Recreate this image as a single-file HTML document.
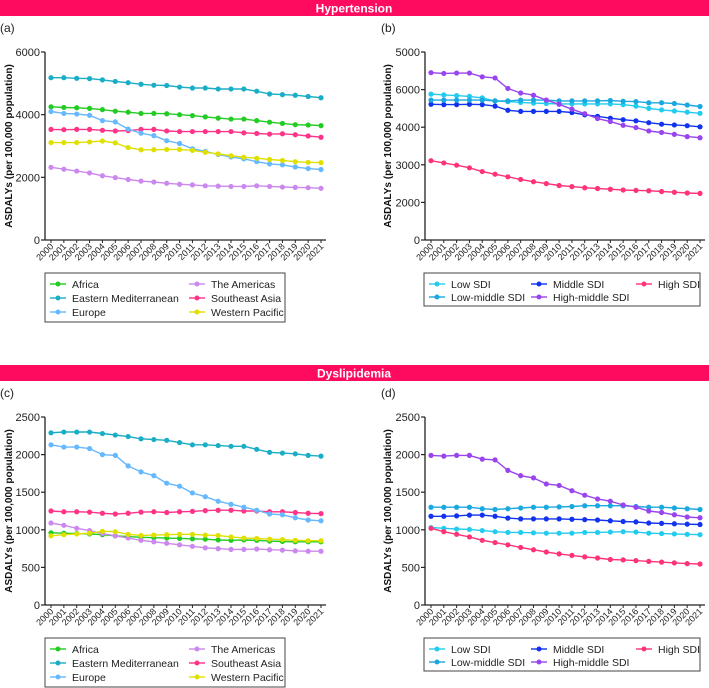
<!DOCTYPE html>
<html><head><meta charset="utf-8"><style>
body{margin:0;width:709px;height:688px;background:#fff;font-family:"Liberation Sans",sans-serif;overflow:hidden}
svg{display:block}
</style></head><body>
<svg id="c" width="709" height="688">
<rect x="0" y="0" width="709" height="16" fill="#fe0a5e"/>
<text x="354" y="12.5" text-anchor="middle" fill="#fff" font-size="12" font-weight="bold">Hypertension</text>
<rect x="0" y="365" width="709" height="16" fill="#fe0a5e"/>
<text x="354" y="377.5" text-anchor="middle" fill="#fff" font-size="12" font-weight="bold">Dyslipidemia</text>
</svg>
<script>
const years=["2000","2001","2002","2003","2004","2005","2006","2007","2008","2009","2010","2011","2012","2013","2014","2015","2016","2017","2018","2019","2020","2021"];
const regionNames=["Africa","Eastern Mediterranean","Europe","The Americas","Southeast Asia","Western Pacific"];
const sdiNames=["Low SDI","Low-middle SDI","Middle SDI","High-middle SDI","High SDI"];
const ticksA=[0,2000,4000,6000];
const ticksAL=["0","2000","4000","6000"];
const ticksB=[0,1000,2000,3000,4000,5000];
const ticksBL=["0","2000","3000","4000","6000","5000"];
const ticksC=[0,500,1000,1500,2000,2500];
const ticksCL=["0","500","1000","1500","2000","2500"];
const aAfrica=[4250,4230,4220,4200,4160,4110,4080,4040,4040,4030,4000,3970,3930,3890,3860,3860,3810,3760,3720,3680,3670,3650];
const aEMed=[5180,5180,5160,5150,5110,5060,5020,4970,4940,4930,4880,4850,4850,4820,4820,4820,4750,4660,4640,4620,4580,4540];
const aEurope=[4100,4040,4020,3980,3810,3770,3540,3410,3330,3170,3080,2910,2830,2730,2650,2590,2500,2430,2400,2330,2280,2250];
const aAmericas=[2320,2260,2200,2140,2050,1990,1930,1880,1850,1810,1780,1760,1730,1720,1710,1710,1730,1710,1690,1680,1670,1650];
const aSEAsia=[3530,3520,3530,3530,3500,3480,3490,3530,3530,3480,3460,3460,3460,3460,3460,3420,3400,3380,3390,3360,3320,3280];
const aWPac=[3110,3110,3110,3130,3160,3100,2950,2880,2880,2890,2890,2860,2800,2750,2690,2640,2610,2570,2540,2500,2480,2470];
const bLow=[3880,3860,3840,3820,3780,3700,3680,3660,3640,3630,3620,3620,3620,3620,3620,3600,3560,3500,3460,3430,3400,3370];
const bLowMid=[3720,3720,3720,3720,3720,3700,3700,3720,3720,3720,3700,3700,3700,3700,3710,3690,3680,3650,3650,3630,3590,3550];
const bMid=[3610,3600,3600,3610,3600,3560,3450,3420,3420,3420,3420,3390,3330,3290,3240,3200,3170,3120,3080,3060,3040,3010];
const bHighMid=[4450,4430,4440,4440,4340,4310,4030,3910,3850,3720,3610,3480,3360,3230,3150,3050,2990,2900,2860,2810,2750,2720];
const bHigh=[2110,2050,1990,1920,1820,1750,1680,1610,1550,1500,1450,1420,1390,1370,1350,1330,1320,1310,1290,1270,1250,1240];
const cAfrica=[960,955,950,945,935,920,910,900,895,890,885,880,875,865,860,865,860,850,845,840,840,840];
const cEMed=[2290,2300,2300,2300,2280,2260,2240,2210,2200,2190,2160,2130,2130,2120,2110,2110,2070,2030,2020,2010,1990,1980];
const cEurope=[2130,2100,2100,2080,2000,1990,1850,1770,1720,1620,1580,1490,1440,1380,1340,1300,1260,1210,1200,1160,1130,1120];
const cAmericas=[1090,1060,1020,990,950,920,890,860,840,820,800,780,760,750,740,740,745,735,730,720,715,715];
const cSEAsia=[1250,1240,1240,1235,1220,1210,1220,1235,1240,1230,1240,1245,1255,1260,1260,1250,1250,1240,1240,1230,1220,1215];
const cWPac=[920,935,945,955,980,975,940,925,930,935,940,940,930,925,905,890,885,875,870,860,855,855];
const dLow=[1030,1020,1010,1005,990,975,965,965,960,955,955,955,965,965,970,975,970,955,950,945,940,935];
const dLowMid=[1300,1300,1300,1300,1280,1270,1280,1290,1300,1300,1305,1310,1320,1320,1320,1320,1310,1300,1300,1290,1280,1270];
const dMid=[1180,1180,1185,1195,1195,1180,1155,1145,1145,1145,1145,1140,1135,1130,1120,1110,1105,1090,1085,1080,1075,1070];
const dHighMid=[1990,1980,1990,1990,1940,1930,1790,1720,1690,1610,1590,1520,1460,1410,1380,1330,1300,1250,1230,1200,1170,1160];
const dHigh=[1020,975,940,905,860,830,800,765,735,705,680,660,640,625,605,600,590,580,570,560,550,545];

const regColors=["#22cc22","#1aaec6","#66b8ff","#cc88ee","#ff3388","#e0e000"];
const sdiColors=["#22ccee","#1aa8e0","#1133ee","#9944ee","#ff3377"];
const NS="http://www.w3.org/2000/svg";
const svg=document.getElementById("c");
function mk(tag,attrs,parent){const e=document.createElementNS(NS,tag);for(const k in attrs)e.setAttribute(k,attrs[k]);(parent||svg).appendChild(e);return e;}

function panel(p){
  const g=mk("g",{});
  
  
  const yS=v=>p.y0-(v-p.ymin)/(p.ymax-p.ymin)*(p.y0-p.y1);
  const xS=i=>p.xa+(p.xb-p.xa)*i/(years.length-1);
  const lab=mk("text",{x:p.lx,y:p.y1-20,"font-size":12,fill:"#222"},g);lab.textContent="("+p.id+")";
  
  
  mk("line",{x1:p.ax,y1:p.y1,x2:p.ax,y2:p.y0,stroke:"#222","stroke-width":1.3},g);
  mk("line",{x1:p.ax,y1:p.y0,x2:p.xb+5,y2:p.y0,stroke:"#222","stroke-width":1.3},g);
  p.ticks.forEach((t,i)=>{
    const y=yS(t);
    mk("line",{x1:p.ax-4,y1:y,x2:p.ax,y2:y,stroke:"#222","stroke-width":1.2},g);
    const tx=mk("text",{x:p.ax-5,y:y+4,"text-anchor":"end","font-size":11,fill:"#222"},g);tx.textContent=p.tickLabels[i];
    
    
  });
  years.forEach((yr,i)=>{
    const x=xS(i);
    mk("line",{x1:x,y1:p.y0,x2:x,y2:p.y0+3,stroke:"#222","stroke-width":1},g);
    const tx=mk("text",{x:x+3,y:p.y0+7,"text-anchor":"end","font-size":9,fill:"#222",transform:`rotate(-45 ${x+3} ${p.y0+7})`},g);tx.textContent=yr;
    
    
  });
  const cy=(p.y0+p.y1)/2;
  const yt=mk("text",{x:p.ytx,y:cy+4,"text-anchor":"middle","font-size":10,"font-weight":"bold",fill:"#111",transform:`rotate(-90 ${p.ytx} ${cy})`},g);
  yt.textContent="ASDALYs (per 100,000 population)";
  
  
  p.series.forEach((s,si)=>{
    const sg=mk("g",{},g);
    
    
    const pts=s.map((v,i)=>xS(i).toFixed(1)+","+yS(v).toFixed(1)).join(" ");
    mk("polyline",{points:pts,fill:"none",stroke:p.colors[si],"stroke-width":1.4},sg);
    s.forEach((v,i)=>{const c=mk("circle",{cx:xS(i),cy:yS(v),r:2.6,fill:p.colors[si]},sg);
      
      });
  });
  const lg=mk("g",{},g);
  
  
  mk("rect",{x:p.leg.x,y:p.leg.y,width:p.leg.w,height:p.leg.h,fill:"#fff",stroke:"#444","stroke-width":1},lg);
  p.names.forEach((n,i)=>{
    const col=p.leg.cols[i%p.leg.cols.length], row=Math.floor(i/p.leg.cols.length);
    const y=p.leg.y+11+row*p.leg.rh;
    const eg=mk("g",{},lg);
    
    
    mk("line",{x1:col,y1:y,x2:col+16,y2:y,stroke:p.colors[i],"stroke-width":1.4},eg);
    mk("circle",{cx:col+8,cy:y,r:2.5,fill:p.colors[i]},eg);
    const t=mk("text",{x:col+22,y:y+4,"font-size":10.5,fill:"#222"},eg);t.textContent=n;
  });
}
const legReg=y=>({x:45,y:y,w:240,h:49,rh:14,cols:[50,189]});
const legSdi=y=>({x:424,y:y,w:276,h:33,rh:13,cols:[429,531,636]});
const regOrder=[0,3,1,4,2,5];
function reorder(arr){return regOrder.map(i=>arr[i]);}
panel({id:"a",lx:0,ax:45,xa:51,xb:321,y0:240,y1:52,ymin:0,ymax:6000,ticks:ticksA,tickLabels:ticksAL,ytx:8,
  series:reorder([aAfrica,aEMed,aEurope,aAmericas,aSEAsia,aWPac]),names:reorder(regionNames),colors:reorder(regColors),leg:legReg(273)});
panel({id:"b",lx:381,ax:425,xa:431,xb:700,y0:240,y1:52,ymin:0,ymax:5000,ticks:ticksB,tickLabels:ticksBL,ytx:387,
  series:[bLow,bMid,bHigh,bLowMid,bHighMid],names:[sdiNames[0],sdiNames[2],sdiNames[4],sdiNames[1],sdiNames[3]],colors:[sdiColors[0],sdiColors[2],sdiColors[4],sdiColors[1],sdiColors[3]],leg:legSdi(273)});
panel({id:"c",lx:0,ax:45,xa:51,xb:321,y0:605,y1:417,ymin:0,ymax:2500,ticks:ticksC,tickLabels:ticksCL,ytx:8,
  series:reorder([cAfrica,cEMed,cEurope,cAmericas,cSEAsia,cWPac]),names:reorder(regionNames),colors:reorder(regColors),leg:legReg(638)});
panel({id:"d",lx:381,ax:425,xa:431,xb:700,y0:605,y1:417,ymin:0,ymax:2500,ticks:ticksC,tickLabels:ticksCL,ytx:387,
  series:[dLow,dMid,dHigh,dLowMid,dHighMid],names:[sdiNames[0],sdiNames[2],sdiNames[4],sdiNames[1],sdiNames[3]],colors:[sdiColors[0],sdiColors[2],sdiColors[4],sdiColors[1],sdiColors[3]],leg:legSdi(638)});
</script>
</body></html>
